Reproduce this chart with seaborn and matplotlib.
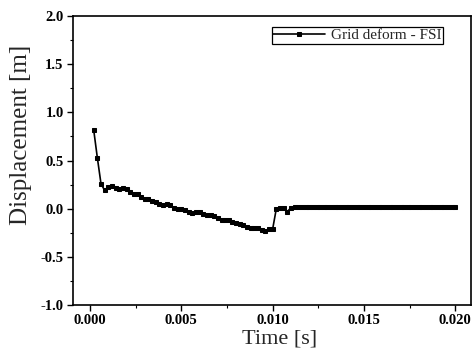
import matplotlib
matplotlib.use("Agg")
import matplotlib.pyplot as plt
from matplotlib.ticker import MultipleLocator
import seaborn as sns
import pandas as pd

# Time samples [s]
time_s = [
    0.0002, 0.0004, 0.0006, 0.0008, 0.0010, 0.0012, 0.0014, 0.0016, 0.0018, 0.0020,
    0.0022, 0.0024, 0.0026, 0.0028, 0.0030, 0.0032, 0.0034, 0.0036, 0.0038, 0.0040,
    0.0042, 0.0044, 0.0046, 0.0048, 0.0050, 0.0052, 0.0054, 0.0056, 0.0058, 0.0060,
    0.0062, 0.0064, 0.0066, 0.0068, 0.0070, 0.0072, 0.0074, 0.0076, 0.0078, 0.0080,
    0.0082, 0.0084, 0.0086, 0.0088, 0.0090, 0.0092, 0.0094, 0.0096, 0.0098, 0.0100,
    0.0102, 0.0104, 0.0106, 0.0108, 0.0110, 0.0112, 0.0114, 0.0116, 0.0118, 0.0120,
    0.0122, 0.0124, 0.0126, 0.0128, 0.0130, 0.0132, 0.0134, 0.0136, 0.0138, 0.0140,
    0.0142, 0.0144, 0.0146, 0.0148, 0.0150, 0.0152, 0.0154, 0.0156, 0.0158, 0.0160,
    0.0162, 0.0164, 0.0166, 0.0168, 0.0170, 0.0172, 0.0174, 0.0176, 0.0178, 0.0180,
    0.0182, 0.0184, 0.0186, 0.0188, 0.0190, 0.0192, 0.0194, 0.0196, 0.0198, 0.0200,
]

# Displacement of the deforming grid, FSI run [m]
displacement_m = [
    0.82, 0.53, 0.26, 0.19, 0.23, 0.24, 0.22, 0.20, 0.21, 0.20,
    0.17, 0.15, 0.15, 0.12, 0.10, 0.10, 0.08, 0.07, 0.05, 0.04,
    0.045, 0.035, 0.01, -0.005, 0.0, -0.01, -0.03, -0.04, -0.03, -0.03,
    -0.05, -0.07, -0.07, -0.08, -0.10, -0.12, -0.12, -0.12, -0.14, -0.15,
    -0.16, -0.17, -0.19, -0.20, -0.20, -0.20, -0.22, -0.23, -0.21, -0.21,
    0.00, 0.01, 0.01, -0.03, 0.01, 0.015, 0.015, 0.015, 0.015, 0.015,
    0.015, 0.015, 0.015, 0.015, 0.015, 0.015, 0.015, 0.015, 0.015, 0.015,
    0.015, 0.015, 0.015, 0.015, 0.015, 0.015, 0.015, 0.015, 0.015, 0.015,
    0.015, 0.015, 0.015, 0.015, 0.015, 0.015, 0.015, 0.015, 0.015, 0.015,
    0.015, 0.015, 0.015, 0.015, 0.015, 0.015, 0.015, 0.015, 0.015, 0.015,
]

series_label = "Grid deform - FSI"
x_ticks = [0.000, 0.005, 0.010, 0.015, 0.020]
y_ticks = [-1.0, -0.5, 0.0, 0.5, 1.0, 1.5, 2.0]

sns.set_style("ticks")
plt.rcParams["font.family"] = ["Liberation Serif", "DejaVu Serif"]

df = pd.DataFrame({"t": time_s, "d": displacement_m})

fig = plt.figure(figsize=(4.75, 3.58), dpi=100)
ax = fig.add_axes([0.153, 0.148, 0.839, 0.807])

sns.lineplot(data=df, x="t", y="d", ax=ax, color="black", linewidth=1.2,
             marker="s", markersize=3.0, markeredgecolor="black",
             label=series_label)

ax.set_xlim(-0.00095, 0.02087)
ax.set_ylim(-1.0, 2.0)
ax.set_xticks(x_ticks)
ax.set_xticklabels([f"{v:.3f}" for v in x_ticks])
ax.set_yticks(y_ticks)
ax.set_yticklabels([f"{v:.1f}" for v in y_ticks])
ax.xaxis.set_minor_locator(MultipleLocator(0.0025))
ax.yaxis.set_minor_locator(MultipleLocator(0.25))

for lab in ax.get_xticklabels() + ax.get_yticklabels():
    lab.set_fontweight("bold")
    lab.set_fontsize(10.5)

ax.tick_params(which="major", direction="out", length=4, width=1.0, pad=2.5, colors="black")
ax.tick_params(which="minor", direction="out", length=2.5, width=0.8, colors="black")

for sp in ax.spines.values():
    sp.set_visible(True)
    sp.set_linewidth(1.2)
    sp.set_color("black")

ax.set_xlabel("Time [s]", fontsize=16)
ax.set_ylabel("Displacement [m]", fontsize=18)
ax.xaxis.set_label_coords(0.52, -0.085)
ax.yaxis.set_label_coords(-0.103, 0.59)

leg = ax.legend(loc="upper right", bbox_to_anchor=(0.93, 0.962), fontsize=11,
                frameon=True, fancybox=False, edgecolor="black", framealpha=1,
                borderpad=0.1, handlelength=3.4, handletextpad=0.4,
                borderaxespad=0.0)
leg.get_frame().set_linewidth(0.9)

fig.savefig("out.png", dpi=100)
